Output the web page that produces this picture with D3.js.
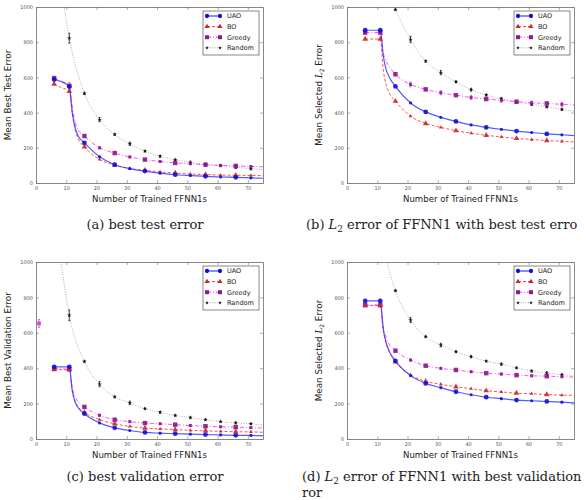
<!DOCTYPE html>
<html>
<head>
<meta charset="utf-8">
<script src="https://cdn.jsdelivr.net/npm/d3@7"></script>
<style>
  body { margin: 0; background: #fff; }
  svg { display: block; }
</style>
</head>
<body>
<div id="wrapper"></div>
<script>
// x positions of the curves (number of trained FFNN1s)
const steps = [6, 8, 11, 12, 13, 14, 16, 21, 26, 31, 36, 41, 46, 51, 56, 61, 66, 71, 75]
const markerSteps = [6, 11, 16, 21, 26, 31, 36, 41, 46, 51, 56, 61, 66, 71]
const xTicks = [0, 10, 20, 30, 40, 50, 60, 70]
const yTicks = [0, 200, 400, 600, 800, 1000]
const methods = ["UAO", "BO", "Greedy", "Random"]

// (a) best test error
const testUAO = [588, 578, 548, 400, 310, 265, 228, 149, 104, 82, 68, 56, 47, 42, 38, 34, 32, 29, 27]
const testBO = [562, 545, 520, 390, 295, 250, 205, 134, 101, 82, 72, 63, 56, 51, 48, 45, 44, 43, 42]
const testGreedy = [596, 580, 552, 430, 340, 300, 267, 200, 170, 148, 133, 122, 114, 109, 104, 100, 97, 94, 92]
const testRandom = [null, 1150, 823, null, null, null, 509, 360, 276, 223, 181, 152, 132, 117, 106, 98, 90, 81, 76]
const testGreedyErr = [10, 20, 8, 6, 5, 5, 5, 4, 6, 4, 5, 4, 6, 5]
const testRandomErr = [null, 28, 6, 12, 5, 9, 4, 5, 4, 7, 5, 4, 8, 6]

// (b) L2 error, best test error
const l2TestUAO = [868, 868, 868, 720, 640, 600, 549, 455, 404, 373, 350, 330, 316, 305, 295, 287, 279, 274, 269]
const l2TestBO = [818, 818, 818, 640, 555, 510, 465, 380, 338, 316, 297, 283, 271, 262, 253, 247, 241, 237, 233]
const l2TestGreedy = [855, 855, 855, 740, 690, 660, 618, 560, 532, 513, 499, 486, 477, 470, 462, 456, 452, 447, 443]
const l2TestRandom = [null, null, null, null, null, 1060, 985, 815, 692, 627, 575, 530, 500, 478, 460, 447, 433, 418, 408]
const l2TestGreedyErr = [10, 12, 8, 14, 6, 12, 5, 12, 5, 12, 5, 10, 6, 12]
const l2TestRandomErr = [null, null, 5, 18, 5, 12, 5, 8, 5, 8, 6, 6, 5, 6]

// (c) best validation error
const valUAO = [408, 408, 408, 270, 205, 175, 143, 91, 63, 48, 37, 33, 30, 27, 25, 23, 21, 20, 19]
const valBO = [392, 392, 392, 275, 210, 180, 150, 109, 86, 71, 62, 57, 53, 49, 46, 43, 41, 40, 38]
const valGreedy = [398, 396, 394, 290, 235, 210, 181, 134, 109, 98, 90, 86, 81, 76, 72, 69, 67, 64, 62]
const valRandom = [null, 1030, 699, null, null, null, 438, 310, 238, 204, 171, 151, 133, 121, 109, 98, 91, 86, 78]
const valGreedyErr = [8, 8, 6, 5, 5, 4, 5, 4, 5, 4, 5, 4, 5, 4]
const valRandomErr = [null, 30, 5, 15, 5, 10, 5, 5, 4, 4, 4, 4, 5, 4]
// lone greedy point at one trained net
const valGreedyFirst = [1, 653, 22]

// (d) L2 error, best validation error
const l2ValUAO = [780, 780, 780, 620, 540, 495, 441, 358, 314, 290, 267, 250, 236, 228, 220, 216, 212, 208, 204]
const l2ValBO = [754, 754, 754, 610, 535, 490, 436, 362, 326, 309, 295, 284, 273, 266, 259, 256, 251, 248, 247]
const l2ValGreedy = [757, 757, 757, 630, 570, 535, 499, 446, 414, 399, 390, 380, 372, 367, 361, 357, 355, 352, 350]
const l2ValRandom = [null, null, null, 1080, null, null, 838, 672, 578, 531, 493, 465, 440, 423, 402, 384, 372, 363, 355]
const l2ValGreedyErr = [8, 8, 6, 6, 5, 5, 5, 5, 5, 5, 5, 5, 6, 5]
const l2ValRandomErr = [null, null, 5, 15, 5, 10, 5, 6, 4, 6, 4, 5, 8, 5]

let styles = {
    UAO:    { line: "#3b3bff", dash: null,      width: 1.2, mark: "#1010d8", symbol: d3.symbolCircle,   size: 18 },
    BO:     { line: "#ff3030", dash: "3,2",     width: 1,   mark: "#c82828", symbol: d3.symbolTriangle, size: 14 },
    Greedy: { line: "#ff30ff", dash: "4,2,1,2", width: 1,   mark: "#8c1a8c", symbol: d3.symbolSquare,   size: 20 },
    Random: { line: "#888888", dash: "1,1.5",   width: 0.8, mark: "#111111", symbol: d3.symbolStar,     size: 6 }
}

let svg = d3.select("#wrapper")
    .append("svg")
    .attr("width", 586)
    .attr("height", 500)

function drawPanel(p) {
    let g = svg.append("g")
        .attr("transform", "translate(" + p.left + "," + p.top + ")")

    let x = d3.scaleLinear().domain([0, 75]).range([0, p.width])
    let y = d3.scaleLinear().domain([0, 1000]).range([p.height, 0])

    let clipId = "clip-" + p.id
    g.append("clipPath").attr("id", clipId)
        .append("rect").attr("width", p.width).attr("height", p.height)

    //axes with inward ticks on all four sides
    let fmt = d3.format("d")
    let axes = [
        { ax: d3.axisBottom(x).tickValues(xTicks).tickFormat(fmt), t: "translate(0," + p.height + ")", labels: true },
        { ax: d3.axisLeft(y).tickValues(yTicks).tickFormat(fmt), t: null, labels: true },
        { ax: d3.axisTop(x).tickValues(xTicks), t: null, labels: false },
        { ax: d3.axisRight(y).tickValues(yTicks), t: "translate(" + p.width + ",0)", labels: false }
    ]
    axes.forEach(function(a) {
        let ag = g.append("g")
            .attr("transform", a.t)
            .call(a.ax.tickSizeInner(-3).tickSizeOuter(0).tickPadding(3))
        ag.select(".domain").attr("stroke", "#6a6a6a").attr("stroke-width", 0.8)
        ag.selectAll(".tick line").attr("stroke", "#777").attr("stroke-width", 0.6)
        ag.selectAll(".tick text")
            .style("font-family", "DejaVu Sans")
            .style("font-size", "5px")
            .attr("fill", "#555")
        if (!a.labels) ag.selectAll(".tick text").remove()
    })

    let plot = g.append("g").attr("clip-path", "url(#" + clipId + ")")

    let line = d3.line()
        .defined(d => d[1] != null)
        .x(d => x(d[0]))
        .y(d => y(d[1]))
        .curve(d3.curveMonotoneX)

    // draw curves (Random first, so it is underneath)
    let order = ["Random", "Greedy", "BO", "UAO"]
    order.forEach(function(m) {
        let vals = p.series[m]
        let pts = steps.map((s, i) => [s, vals[i]]).filter(d => d[1] != null)
        let st = styles[m]
        plot.append("path")
            .datum(pts)
            .attr("d", line)
            .attr("fill", "none")
            .attr("stroke", st.line)
            .attr("stroke-width", st.width)
            .attr("stroke-dasharray", st.dash)
            .attr("opacity", 0.85)
    })

    // error bars
    let bars = [["Greedy", p.greedyErr, "#e040e0"], ["Random", p.randomErr, "#222"]]
    bars.forEach(function(b) {
        let vals = p.series[b[0]]
        let data = markerSteps.map((s, i) => [s, vals[steps.indexOf(s)], b[1][i]])
            .filter(d => d[1] != null && d[2] != null && d[1] < 1000)
        plot.selectAll(null)
            .data(data)
            .enter()
            .append("path")
            .attr("d", d => "M" + (x(d[0]) - 1) + "," + y(d[1] + d[2]) + "h2" +
                "M" + x(d[0]) + "," + y(d[1] + d[2]) + "V" + y(d[1] - d[2]) +
                "M" + (x(d[0]) - 1) + "," + y(d[1] - d[2]) + "h2")
            .attr("stroke", b[2])
            .attr("stroke-width", 0.8)
            .attr("fill", "none")
    })

    // markers
    order.forEach(function(m) {
        let vals = p.series[m]
        let st = styles[m]
        let data = markerSteps.map((s, i) => [s, vals[steps.indexOf(s)], i])
            .filter(d => d[1] != null && d[1] < 1000)
        plot.selectAll(null)
            .data(data)
            .enter()
            .append("path")
            .attr("transform", d => "translate(" + x(d[0]) + "," + y(d[1]) + ")")
            .attr("d", d => d3.symbol().type(st.symbol)
                .size(m != "Random" && d[2] > 2 && d[2] % 2 == 1 ? st.size * 0.45 : st.size)())
            .attr("fill", st.mark)
            .attr("opacity", 0.9)
    })

    if (p.extra) {
        let e = p.extra
        plot.append("path")
            .attr("d", "M" + (x(e[0]) - 1) + "," + y(e[1] + e[2]) + "h2M" + x(e[0]) + "," + y(e[1] + e[2]) +
                "V" + y(e[1] - e[2]) + "M" + (x(e[0]) - 1) + "," + y(e[1] - e[2]) + "h2")
            .attr("stroke", "#e040e0").attr("stroke-width", 0.8).attr("fill", "none")
        plot.append("path")
            .attr("transform", "translate(" + x(e[0]) + "," + y(e[1]) + ")")
            .attr("d", d3.symbol().type(d3.symbolSquare).size(14)())
            .attr("fill", "#e040e0")
    }

    // legend
    let lg = g.append("g").attr("transform", "translate(" + (p.width - 60) + ",4)")
    lg.append("rect")
        .attr("width", 56).attr("height", 44)
        .attr("fill", "#fff").attr("stroke", "#555").attr("stroke-width", 0.7)
    methods.forEach(function(m, i) {
        let st = styles[m]
        let row = lg.append("g").attr("transform", "translate(0," + (5 + i * 10.6) + ")")
        row.append("line")
            .attr("x1", 4).attr("x2", 17)
            .attr("stroke", st.line).attr("stroke-width", st.width)
            .attr("stroke-dasharray", st.dash)
        ;[4, 17].forEach(function(px) {
            row.append("path")
                .attr("transform", "translate(" + px + ",0)")
                .attr("d", d3.symbol().type(st.symbol).size(st.size * 0.8)())
                .attr("fill", st.mark)
        })
        row.append("text")
            .attr("x", 24).attr("y", 2.3)
            .style("font-family", "DejaVu Sans")
            .style("font-size", "6.5px")
            .attr("fill", "#222")
            .text(m)
    })

    // axis titles
    g.append("text")
        .attr("x", p.width / 2)
        .attr("y", p.height + 19)
        .attr("text-anchor", "middle")
        .style("font-family", "DejaVu Sans")
        .style("font-size", "8.6px")
        .attr("fill", "#222")
        .text("Number of Trained FFNN1s")

    let yt = g.append("text")
        .attr("transform", "translate(" + p.yTitleX + "," + (p.height / 2) + ") rotate(-90)")
        .attr("text-anchor", "middle")
        .style("font-family", "DejaVu Sans")
        .style("font-size", "8.8px")
        .attr("fill", "#222")
    if (p.l2) {
        yt.append("tspan").text("Mean Selected ")
        yt.append("tspan").style("font-family", "DejaVu Serif").style("font-style", "italic").text("L")
        yt.append("tspan").attr("dy", 2).style("font-size", "6px").text("2")
        yt.append("tspan").attr("dy", -2).text("  Error")
    } else {
        yt.text(p.yTitle)
    }

    // caption under the panel
    let cap = svg.append("text")
        .attr("x", p.capX)
        .attr("y", p.capY)
        .attr("text-anchor", p.capAnchor)
        .style("font-family", "DejaVu Serif")
        .style("font-size", "13px")
        .attr("fill", "#222")
    cap.append("tspan").text(p.cap[0])
    if (p.l2) {
        cap.append("tspan").style("font-style", "italic").text("L")
        cap.append("tspan").attr("dy", 3).style("font-size", "9px").text("2")
        cap.append("tspan").attr("dy", -3).text(p.cap[1])
    }
    if (p.capWrap) {
        svg.append("text")
            .attr("x", p.capX)
            .attr("y", p.capY + 16)
            .style("font-family", "DejaVu Serif")
            .style("font-size", "13px")
            .attr("fill", "#222")
            .text(p.capWrap)
    }
}

drawPanel({
    id: "a", left: 36, top: 7, width: 227, height: 176,
    series: { UAO: testUAO, BO: testBO, Greedy: testGreedy, Random: testRandom },
    greedyErr: testGreedyErr, randomErr: testRandomErr,
    yTitle: "Mean Best Test Error", yTitleX: -25,
    cap: ["(a) best test error"], capX: 145, capY: 229, capAnchor: "middle"
})

drawPanel({
    id: "b", left: 347, top: 7, width: 227, height: 176,
    series: { UAO: l2TestUAO, BO: l2TestBO, Greedy: l2TestGreedy, Random: l2TestRandom },
    greedyErr: l2TestGreedyErr, randomErr: l2TestRandomErr,
    l2: true, yTitleX: -25,
    cap: ["(b) ", " error of FFNN1 with best test erro"], capX: 306, capY: 229, capAnchor: "start"
})

drawPanel({
    id: "c", left: 36, top: 262, width: 227, height: 177,
    series: { UAO: valUAO, BO: valBO, Greedy: valGreedy, Random: valRandom },
    greedyErr: valGreedyErr, randomErr: valRandomErr, extra: valGreedyFirst,
    yTitle: "Mean Best Validation Error", yTitleX: -25,
    cap: ["(c) best validation error"], capX: 145, capY: 481, capAnchor: "middle"
})

drawPanel({
    id: "d", left: 347, top: 262, width: 227, height: 177,
    series: { UAO: l2ValUAO, BO: l2ValBO, Greedy: l2ValGreedy, Random: l2ValRandom },
    greedyErr: l2ValGreedyErr, randomErr: l2ValRandomErr,
    l2: true, yTitleX: -25,
    cap: ["(d) ", " error of FFNN1 with best validation"], capX: 302, capY: 481, capAnchor: "start",
    capWrap: "ror"
})
</script>
</body>
</html>
